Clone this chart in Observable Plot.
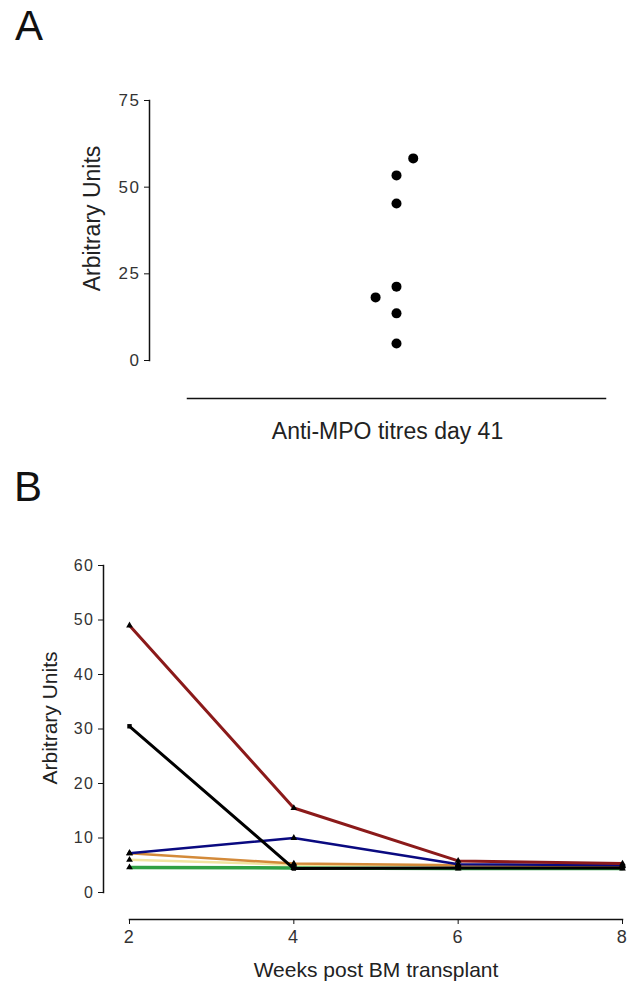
<!DOCTYPE html>
<html><head><meta charset="utf-8">
<script src="https://cdn.jsdelivr.net/npm/d3@7"></script>
<script src="https://cdn.jsdelivr.net/npm/@observablehq/plot@0.6"></script>
<style>
html,body{margin:0;padding:0;background:#fff;overflow:hidden}
#wrap{position:relative;width:633px;height:985px;font-family:"Liberation Sans",Arial,sans-serif}
.panel{position:absolute;left:0;z-index:1}
.lab{position:absolute;z-index:5;font-size:42px;line-height:42px;color:#111;font-family:"Liberation Sans",Arial,sans-serif}
svg [aria-label="y-axis tick label"] text, svg [aria-label="x-axis tick label"] text{letter-spacing:1.5px}
</style></head><body>
<div id="wrap">
  <div id="pa" class="panel" style="top:0px"></div>
  <div id="pb" class="panel" style="top:460px"></div>
  <div class="lab" style="left:15px;top:5px">A</div>
  <div class="lab" style="left:14px;top:466px">B</div>
</div>
<script>
// ---------- Panel A data ----------
const titres = [58.3, 53.4, 45.3, 21.3, 18.2, 13.6, 4.9];
const jitter = [0.08, 0, 0, 0, -0.1, 0, 0];
const yTicksA = [0, 25, 50, 75];
const xTitleA = "Anti-MPO titres day 41";
const yTitle = "Arbitrary Units";

// ---------- Panel B data ----------
const weeks = [2, 4, 6, 8];
const yTicksB = [0, 10, 20, 30, 40, 50, 60];
const xTitleB = "Weeks post BM transplant";
const seriesNames = ["Mouse 1", "Mouse 2", "Mouse 3", "Mouse 4", "Mouse 5", "Mouse 6"];
const seriesColors = ["#2fa043", "#f1e4a0", "#d38a3a", "#0a0a80", "#000000", "#8b1a1a"];
const seriesWidths = [3.5, 2.5, 2.5, 2.5, 3, 3];
const seriesSymbols = ["triangle", "triangle", "triangle", "triangle", "square", "triangle"];
const vals1 = [4.6, 4.5, 4.4, 4.4];
const vals2 = [6.0, 5.1, 5.0, 4.8];
const vals3 = [7.2, 5.3, 5.0, 4.9];
const vals4 = [7.2, 10.0, 5.2, 5.0];
const vals5 = [30.5, 4.4, 4.5, 4.5];
const vals6 = [49.0, 15.5, 5.8, 5.3];
const seriesVals = [vals1, vals2, vals3, vals4, vals5, vals6];

const FONT = '"Liberation Sans", Arial, sans-serif';

// ---------- Panel A ----------
const dataA = titres.map((v, i) => ({v, j: jitter[i]}));
const plotA = Plot.plot({
  width: 633, height: 460,
  marginTop: 100, marginBottom: 100, marginLeft: 187, marginRight: 28,
  style: {fontFamily: FONT, color: "#333", background: "#fff", overflow: "visible"},
  x: {domain: [-1, 1], axis: null},
  y: {domain: [0, 75], axis: null},
  marks: [
    Plot.frame({anchor: "left", dx: -38, stroke: "#111", strokeWidth: 1.5}),
    Plot.axisY(yTicksA, {tickSize: 5, dx: -38, tickPadding: 4, fontSize: 17, label: null, stroke: "#111"}),
    Plot.frame({anchor: "bottom", dy: 38, stroke: "#111", strokeWidth: 1.5}),
    Plot.text([xTitleA], {frameAnchor: "bottom", textAnchor: "middle", lineAnchor: "middle", dy: 71, dx: -9, fontSize: 23, fill: "#222"}),
    Plot.text([yTitle], {frameAnchor: "left", textAnchor: "middle", lineAnchor: "middle", rotate: -90, dx: -95, dy: -12, fontSize: 23, fill: "#222"}),
    Plot.dot(dataA, {x: "j", y: "v", r: 5, fill: "#000"})
  ]
});
document.getElementById("pa").appendChild(plotA);

// ---------- Panel B ----------
const rows = seriesNames.flatMap((s, k) => weeks.map((w, i) => ({s, w, v: seriesVals[k][i]})));
const plotB = Plot.plot({
  width: 633, height: 525,
  marginTop: 105, marginBottom: 93, marginLeft: 129, marginRight: 11,
  style: {fontFamily: FONT, color: "#333", background: "#fff", overflow: "visible"},
  x: {domain: [2, 8], axis: null},
  y: {domain: [0, 60], axis: null},
  color: {domain: seriesNames, range: seriesColors},
  symbol: {domain: seriesNames, range: seriesSymbols},
  marks: [
    Plot.frame({anchor: "left", dx: -26, stroke: "#111", strokeWidth: 1.5}),
    Plot.axisY(yTicksB, {tickSize: 5, dx: -26, tickPadding: 4, fontSize: 16, label: null, stroke: "#111"}),
    Plot.frame({anchor: "bottom", dy: 27, stroke: "#111", strokeWidth: 1.5}),
    Plot.axisX(weeks, {tickSize: 5, dy: 27, tickPadding: 6, fontSize: 18, label: null, stroke: "#111", tickFormat: d => String(d)}),
    Plot.text([xTitleB], {frameAnchor: "bottom", textAnchor: "middle", lineAnchor: "middle", dy: 78, fontSize: 21, fill: "#222"}),
    Plot.text([yTitle], {frameAnchor: "left", textAnchor: "middle", lineAnchor: "middle", rotate: -90, dx: -79, dy: -11, fontSize: 21, fill: "#222"}),
    ...seriesNames.map((s, k) => Plot.line(rows.filter(d => d.s === s), {x: "w", y: "v", stroke: "s", strokeWidth: seriesWidths[k]})),
    Plot.dot(rows, {x: "w", y: "v", symbol: "s", r: 2.5, fill: "#000"})
  ]
});
document.getElementById("pb").appendChild(plotB);
</script>
</body></html>
